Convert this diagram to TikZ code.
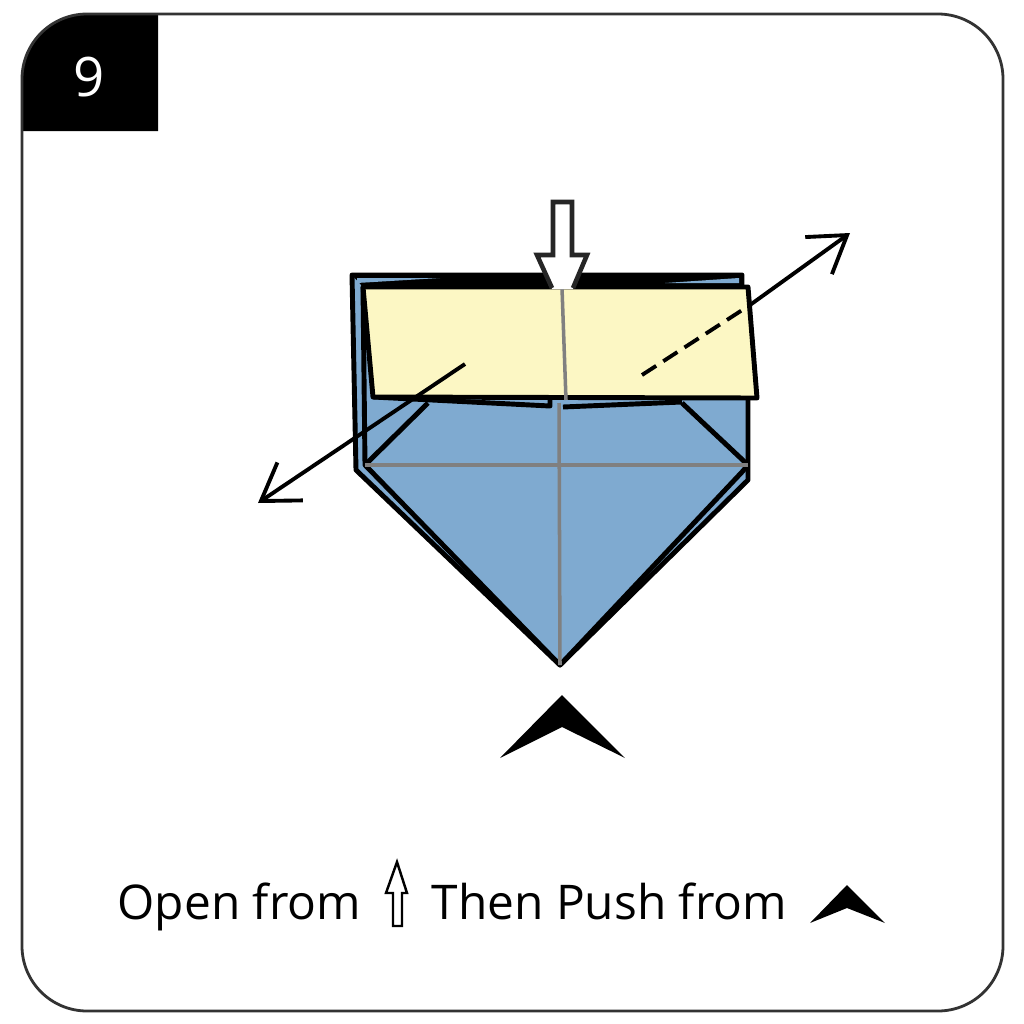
\documentclass[tikz,border=0pt]{standalone}
\usepackage{fontspec}
\setmainfont{Open Sans}
\usetikzlibrary{arrows.meta}
\definecolor{paperblue}{RGB}{127,170,208}
\definecolor{paperyellow}{RGB}{252,247,196}
\tikzset{
    foldline/.style={line width=1.4pt, line join=round, draw=black},
    creaseline/.style={line width=1pt, draw=black!50},
    moveline/.style={line width=1.1pt, draw=black, -{Straight Barb[length=10pt, width=13pt, line width=1.1pt]}},
    pushmark/.style={fill=black, draw=none},
    caption/.style={font=\fontsize{13.6pt}{16pt}\selectfont, inner sep=0pt, anchor=base west},
}
\begin{document}
\begin{tikzpicture}[x=0.01cm, y=-0.01cm]
    \useasboundingbox (0,0) rectangle (1024,1024);
    \fill[white] (0,0) rectangle (1024,1024);
    % frame and step number
    \fill[black] (158,131) -- (22,131) [rounded corners=0.65cm] -- (22,14) [sharp corners] -- (158,14) -- cycle;
    \draw[line width=0.8pt, draw=black!80, rounded corners=0.65cm] (500,14) -- (1003,14) -- (1003,1011) -- (22,1011) -- (22,14) -- cycle;
    \node[text=white, font=\fontsize{15.5pt}{18pt}\selectfont, inner sep=0pt] (stepnum) at (89,77) {9};
    % paper corners
    \coordinate (TL) at (352,275);
    \coordinate (TR) at (742,275);
    \coordinate (TRin) at (742,288);
    \coordinate (BL) at (356,470);
    \coordinate (BR) at (748,480);
    \coordinate (tip) at (560,665);
    \coordinate (ML) at (365,465);
    \coordinate (MR) at (748,465);
    \coordinate (YTL) at (363,287);
    \coordinate (YTR) at (748,287);
    \coordinate (YBR) at (757,398);
    \coordinate (YBL) at (373,397);
    \coordinate (Ctop) at (562,288);
    \coordinate (Cmid) at (566,400);
    \coordinate (Clow) at (559,403);
    % blue base
    \fill[paperblue] (TL) -- (TR) -- (TRin) -- (748,398) -- (BR) -- (tip) -- (BL) -- cycle;
    \draw[foldline] (TRin) -- (TR) -- (TL) -- (BL) -- (tip) -- (BR) -- (MR) -- (748,398);
    \draw[foldline] (YTL) -- (ML) -- (tip) -- (742,472) -- (MR);
    \draw[foldline] (428,403) -- (ML);
    \draw[foldline] (682,403) -- (MR);
    \draw[foldline] (YBL) -- (550,406) -- (550,398);
    \draw[foldline] (563,407) -- (682,402);
    \draw[creaseline] (ML) -- (MR);
    \draw[creaseline] (Clow) -- (tip);
    % top edge band
    \fill[black] (TL) -- (TR) -- (TRin) -- (YTL) -- cycle;
    \fill[paperblue] (357,278) -- (440,278) -- (357,283) -- cycle;
    \fill[paperblue] (665,283) -- (739,278) -- (739,283) -- cycle;
    % yellow flap
    \filldraw[foldline, fill=paperyellow] (YTL) -- (YTR) -- (YBR) -- (YBL) -- cycle;
    \draw[creaseline] (Ctop) -- (Cmid);
    % white arrow from above
    \fill[white] (553,202) -- (572,202) -- (572,255) -- (587,255) -- (573,289) -- (552,289) -- (537,255) -- (553,255) -- cycle;
    \draw[line width=1.3pt, line join=miter, draw=black!85] (552,288) -- (537,255) -- (553,255) -- (553,202) -- (572,202) -- (572,255) -- (587,255) -- (573,288);
    % pull arrows
    \coordinate (pullL) at (465,364);
    \coordinate (endL) at (258,503);
    \coordinate (pullR) at (642,375);
    \coordinate (edgeR) at (750,305);
    \coordinate (endR) at (850,233);
    \draw[moveline] (pullL) -- (endL);
    \draw[line width=1.1pt, dash pattern=on 4.8pt off 2.4pt] (pullR) -- (edgeR);
    \draw[moveline] (edgeR) -- (endR);
    % push mark
    \fill[pushmark] (562,695) -- (625,758) -- (562,727) -- (500,758) -- cycle;
    % caption
    \node[caption] (openfrom) at (117,919) {Open from};
    \filldraw[line width=0.7pt, line join=miter, draw=black, fill=white] (397,862) -- (407,893) -- (402,893) -- (402,926) -- (393,926) -- (393,893) -- (386,893) -- cycle;
    \node[caption] (thenpush) at (431,919) {Then Push from};
    \fill[pushmark] (847,885) -- (885,923) -- (847,908) -- (810,923) -- cycle;
\end{tikzpicture}
\end{document}
